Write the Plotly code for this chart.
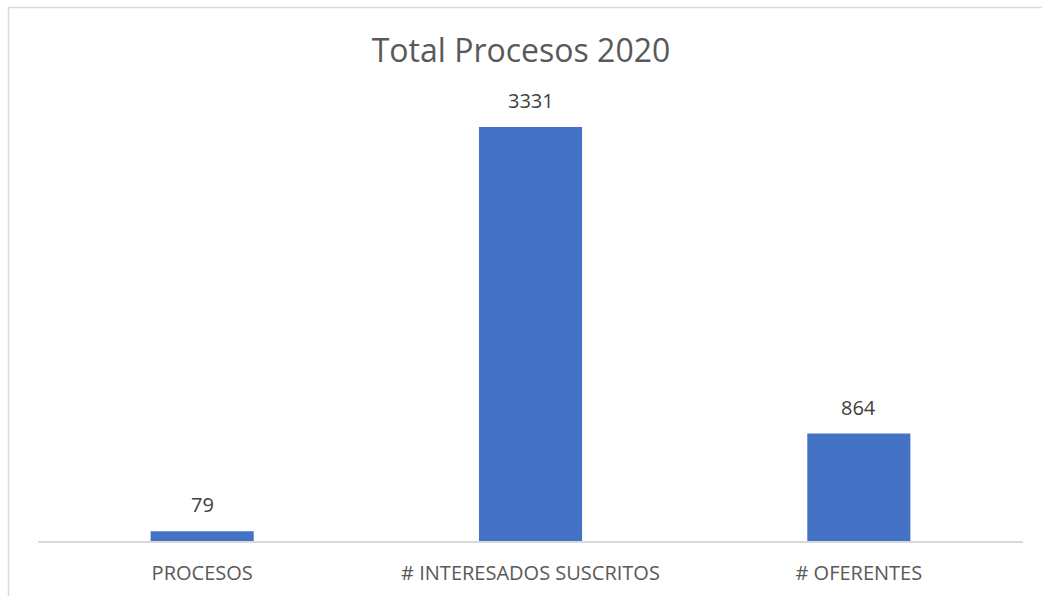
import plotly.graph_objects as go

categorias = ["PROCESOS", "# INTERESADOS SUSCRITOS", "# OFERENTES"]
valores = [79, 3331, 864]
titulo = "Total Procesos 2020"

fuente = "Open Sans"

fig = go.Figure()
fig.add_trace(go.Bar(x=categorias, y=valores, marker_color="#4472c4", marker_line_width=0))

# etiquetas de datos encima de cada barra
for c, v in zip(categorias, valores):
    fig.add_annotation(x=c, y=v, text=str(v), showarrow=False, yanchor="bottom", yshift=11,
                       font=dict(family=fuente, size=20, color="#404040"))

fig.update_layout(
    width=1042, height=596,
    margin=dict(l=38, r=19, t=106, b=55, autoexpand=False),
    paper_bgcolor="white", plot_bgcolor="white",
    bargap=0.686,
    showlegend=False,
    title=dict(text=titulo, x=0.5, xanchor="center", y=1 - 51 / 596, yanchor="middle",
               font=dict(family=fuente, size=32, color="#595959")),
    xaxis=dict(showline=True, linecolor="#d9d9d9", linewidth=1.5, ticks="", ticklabelstandoff=13,
               automargin=False, tickfont=dict(family=fuente, size=20, color="#595959")),
    yaxis=dict(range=[0, 3500], visible=False, showgrid=False, automargin=False),
)

# borde del área del gráfico (recortado a la derecha y abajo)
fig.add_shape(type="rect", xref="paper", yref="paper",
              x0=(8.5 - 38) / 985, x1=1.2, y0=-0.5, y1=(541 - 7.5) / 435,
              line=dict(color="#d9d9d9", width=1.5), layer="below")

# quitar el margen del body para que la figura empiece en (0, 0)
fig.write_html("out.html", config={"displayModeBar": False},
               post_script="document.body.style.margin='0';")
